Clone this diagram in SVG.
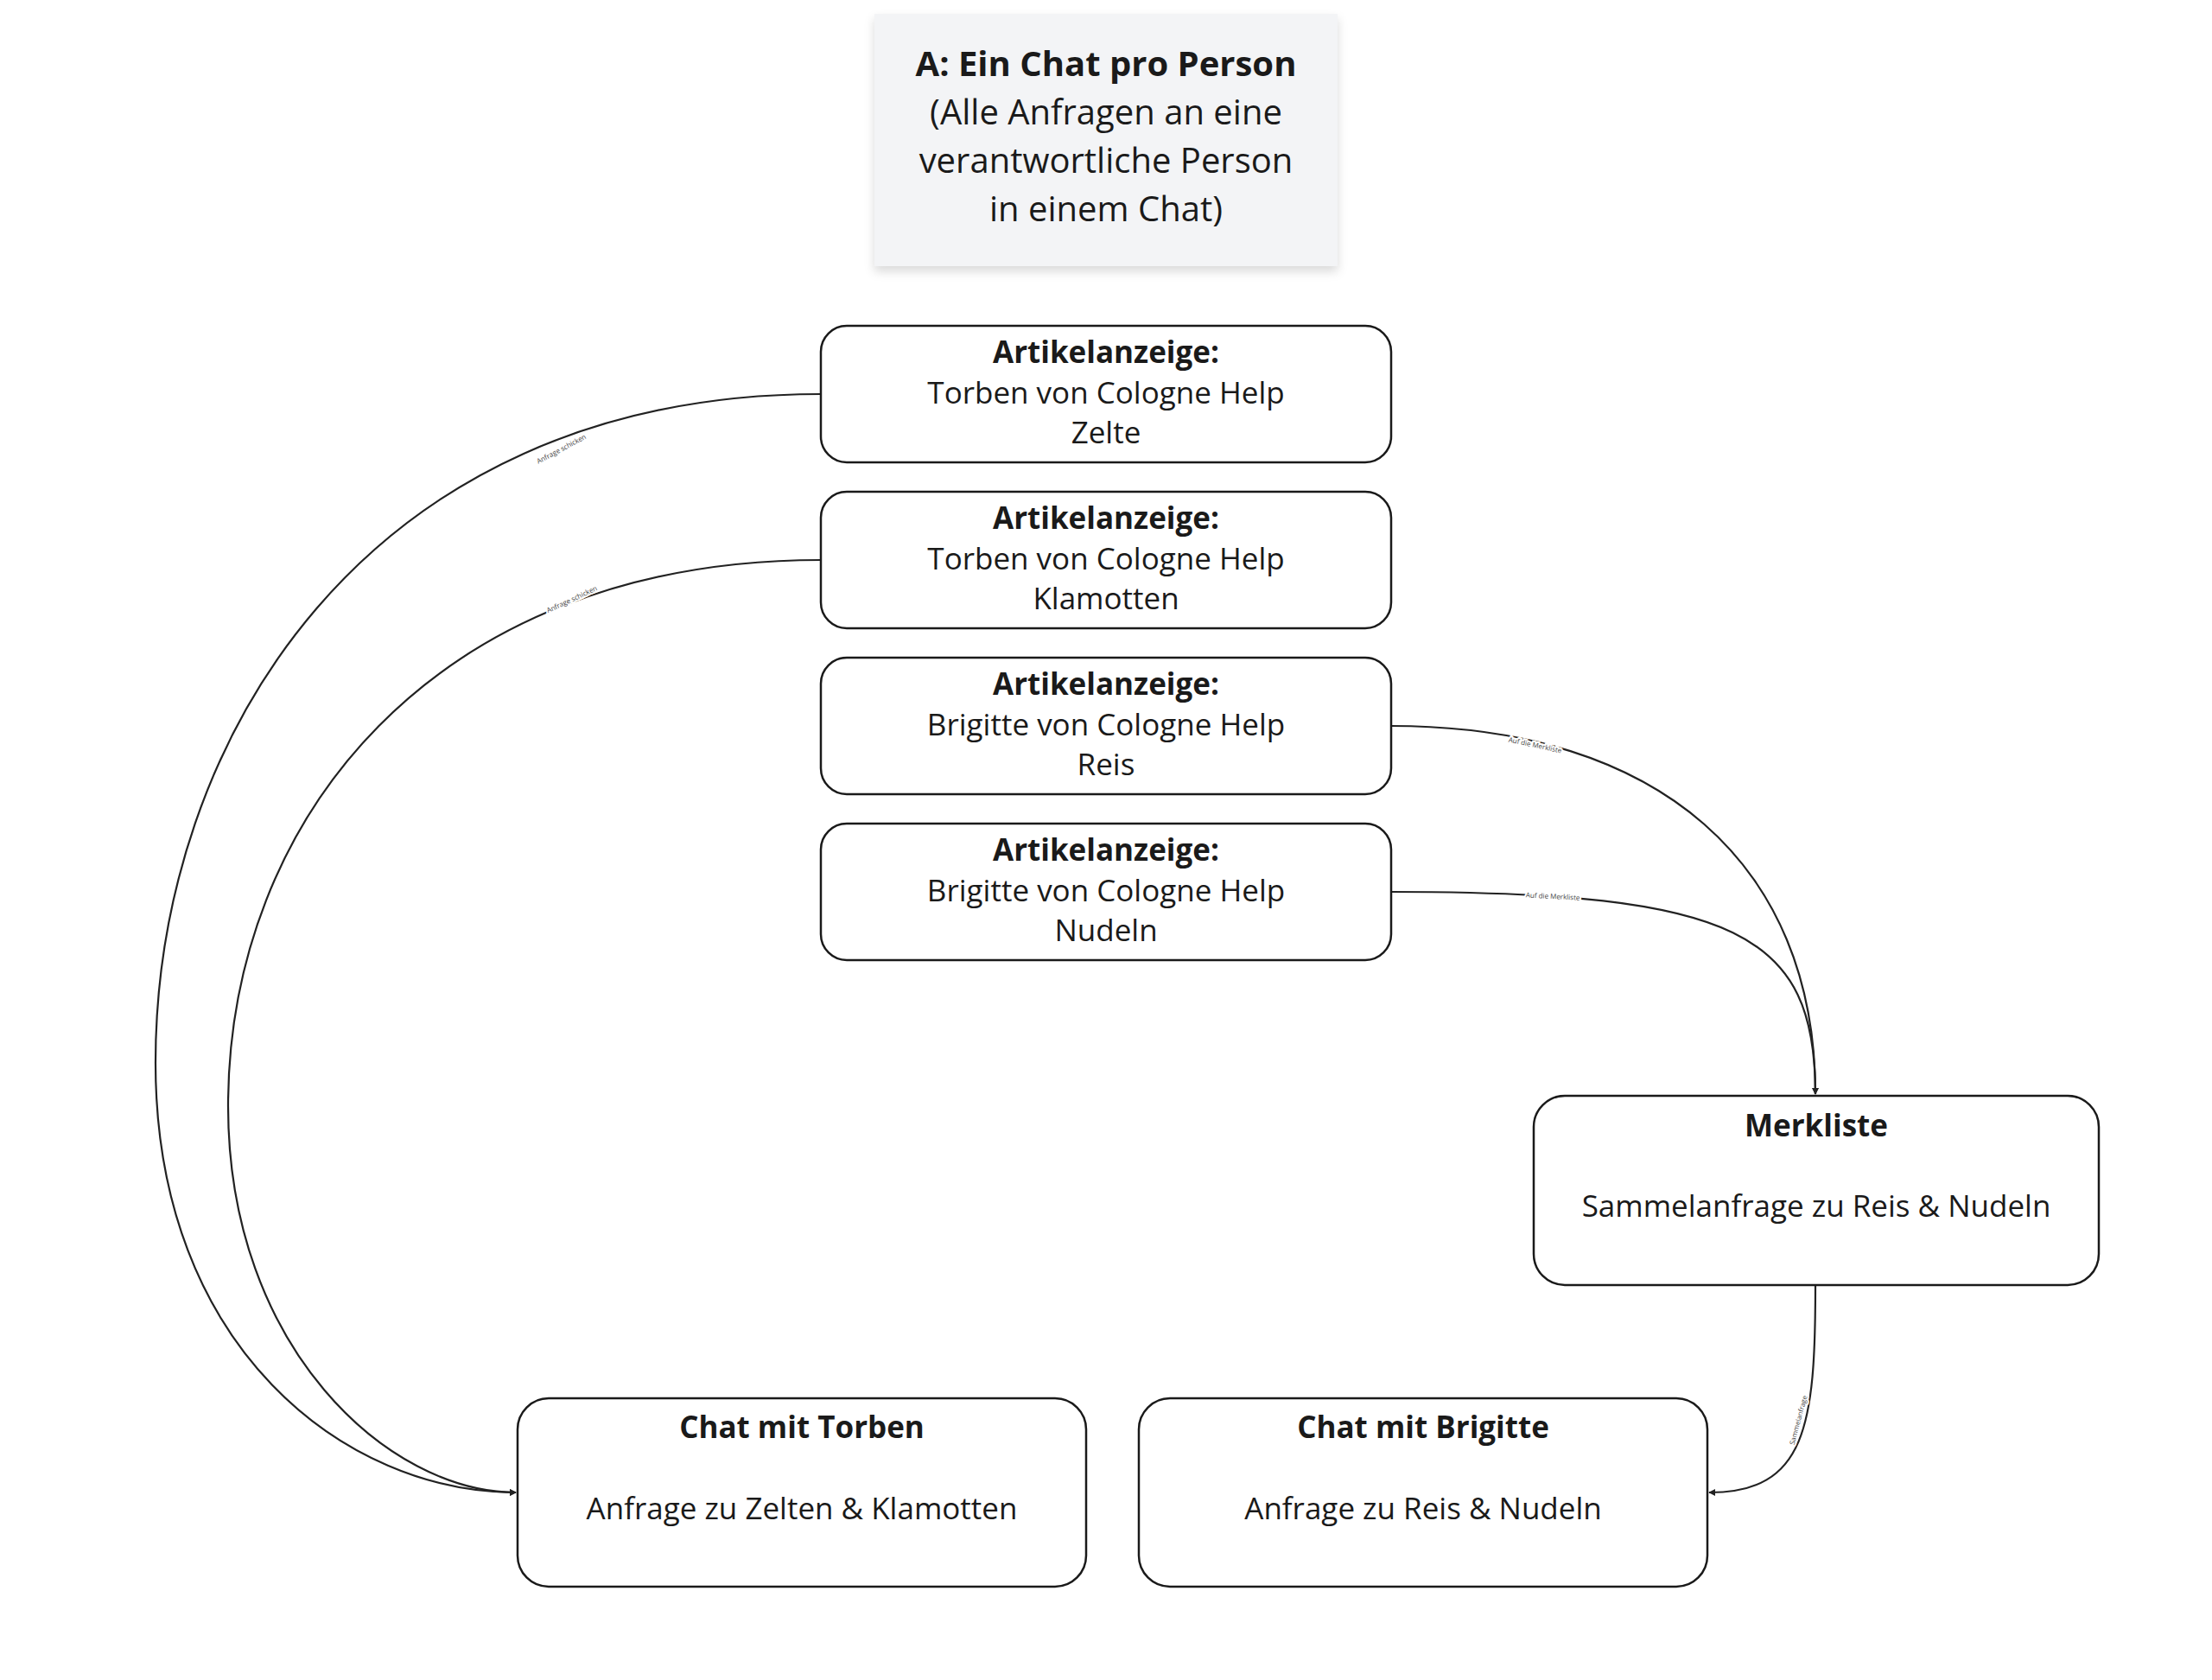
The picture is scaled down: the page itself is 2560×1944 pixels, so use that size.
<svg xmlns="http://www.w3.org/2000/svg" width="2560" height="1944" viewBox="0 0 2560 1944">
<defs>
<marker id="ah" viewBox="0 0 10 10" refX="9" refY="5" markerWidth="8" markerHeight="8" markerUnits="userSpaceOnUse" orient="auto"><path d="M0,0 L10,5 L0,10 z" fill="#222"/></marker>
<filter id="sh" x="-10%" y="-10%" width="130%" height="130%"><feDropShadow dx="0" dy="6" stdDeviation="6" flood-color="#000" flood-opacity="0.15"/></filter>
</defs>
<style>
text{font-family:"Open Sans","Noto Sans",sans-serif;fill:#1a1a1a;text-anchor:middle}
.n{fill:#fff;stroke:#1a1a1a;stroke-width:2.5}
.t{font-size:35px}
.b{font-weight:bold}
.e{fill:none;stroke:#222;stroke-width:2.2;marker-end:url(#ah)}
.l{font-size:8px;fill:#444;stroke:#fff;stroke-width:4;paint-order:stroke}
</style>
<rect width="2560" height="1944" fill="#fff"/>
<g id="note">
<rect x="1012" y="16" width="536" height="292" fill="#f3f4f6" filter="url(#sh)"/>
<text x="1280" y="88" font-size="40" class="b">A: Ein Chat pro Person</text>
<text x="1280" y="144" font-size="40">(Alle Anfragen an eine</text>
<text x="1280" y="200" font-size="40">verantwortliche Person</text>
<text x="1280" y="256" font-size="40">in einem Chat)</text>
</g>
<g id="connectors">
<path class="e" d="M950,456 C420,456 180,860 180,1230 C180,1560 400,1727 597,1727"/>
<path class="e" d="M950,648 C500,648 264,950 264,1280 C264,1560 450,1727 597,1727"/>
<path class="e" d="M1610,840 C1920,840 2101,1000 2101,1266"/>
<path class="e" d="M1610,1032 C2010,1032 2101,1080 2101,1266"/>
<path class="e" d="M2101,1487 C2101,1650 2090,1727 1978,1727"/>
<text class="l" transform="translate(651,522) rotate(-28)">Anfrage schicken</text>
<text class="l" transform="translate(663,696) rotate(-25)">Anfrage schicken</text>
<text class="l" transform="translate(1776,865) rotate(12)">Auf die Merkliste</text>
<text class="l" transform="translate(1797,1040) rotate(3)">Auf die Merkliste</text>
<text class="l" transform="translate(2084,1644) rotate(-75)">Sammelanfrage</text>
</g>
<g id="a1"><rect class="n" x="950" y="377" width="660" height="158" rx="30"/>
<text class="t b" x="1280" y="420">Artikelanzeige:</text><text class="t" x="1280" y="467">Torben von Cologne Help</text><text class="t" x="1280" y="513">Zelte</text></g>
<g id="a2"><rect class="n" x="950" y="569" width="660" height="158" rx="30"/>
<text class="t b" x="1280" y="612">Artikelanzeige:</text><text class="t" x="1280" y="659">Torben von Cologne Help</text><text class="t" x="1280" y="705">Klamotten</text></g>
<g id="a3"><rect class="n" x="950" y="761" width="660" height="158" rx="30"/>
<text class="t b" x="1280" y="804">Artikelanzeige:</text><text class="t" x="1280" y="851">Brigitte von Cologne Help</text><text class="t" x="1280" y="897">Reis</text></g>
<g id="a4"><rect class="n" x="950" y="953" width="660" height="158" rx="30"/>
<text class="t b" x="1280" y="996">Artikelanzeige:</text><text class="t" x="1280" y="1043">Brigitte von Cologne Help</text><text class="t" x="1280" y="1089">Nudeln</text></g>
<g id="merk"><rect class="n" x="1775" y="1268" width="654" height="219" rx="36"/>
<text class="t b" x="2102" y="1315">Merkliste</text><text class="t" x="2102" y="1408">Sammelanfrage zu Reis &amp; Nudeln</text></g>
<g id="ct"><rect class="n" x="599" y="1618" width="658" height="218" rx="36"/>
<text class="t b" x="928" y="1664">Chat mit Torben</text><text class="t" x="928" y="1758">Anfrage zu Zelten &amp; Klamotten</text></g>
<g id="cb"><rect class="n" x="1318" y="1618" width="658" height="218" rx="36"/>
<text class="t b" x="1647" y="1664">Chat mit Brigitte</text><text class="t" x="1647" y="1758">Anfrage zu Reis &amp; Nudeln</text></g>
</svg>
